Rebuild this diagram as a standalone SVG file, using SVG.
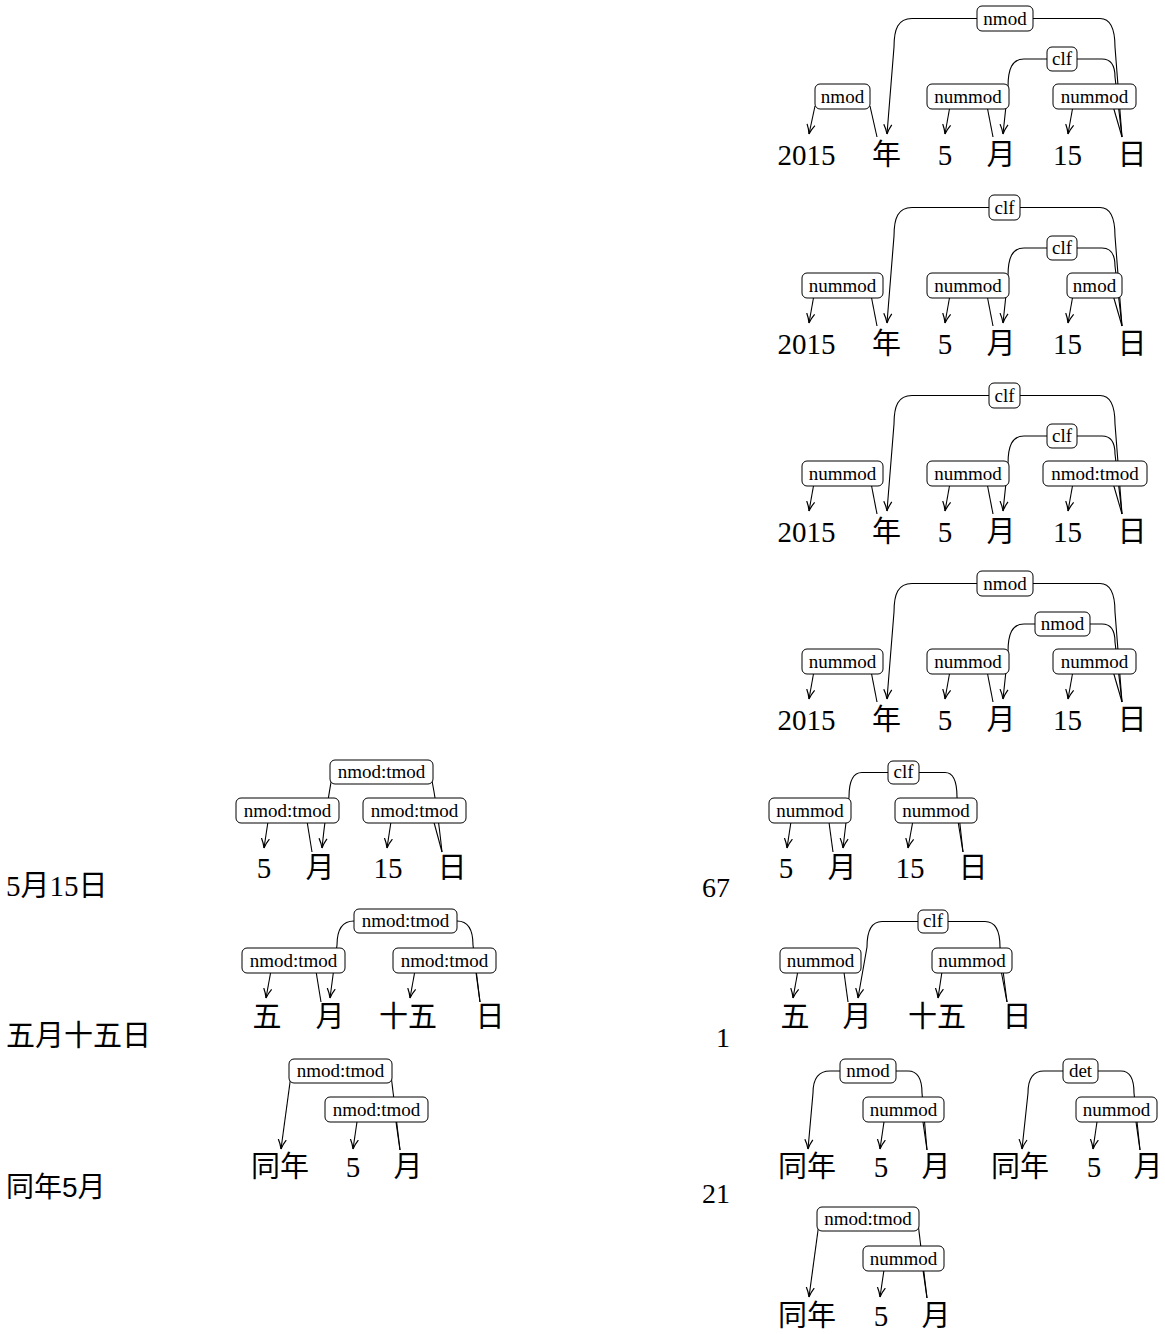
<svg xmlns="http://www.w3.org/2000/svg" width="1165" height="1334" viewBox="0 0 1165 1334">
<style>
.w{font-family:"Liberation Serif","Noto Sans CJK SC",serif;font-size:29px;text-anchor:middle;fill:#000}
.lt{font-family:"Liberation Serif","Noto Sans CJK SC",serif;font-size:29px;fill:#000}
.ls{font-family:"Liberation Sans","Noto Sans CJK SC",sans-serif;font-size:28px;fill:#000}
.num{font-family:"Liberation Serif",serif;font-size:28px;text-anchor:end;fill:#000}
.lb rect{fill:#fff;stroke:#000;stroke-width:1}
.lb text{font-family:"Liberation Serif",serif;font-size:19px;text-anchor:middle;fill:#000}
.e{fill:none;stroke:#000;stroke-width:1.1}
.a{marker-end:url(#arr)}
</style>
<defs>
<marker id="arr" markerUnits="userSpaceOnUse" markerWidth="11" markerHeight="11" viewBox="0 0 11 11" refX="10" refY="5.5" orient="auto">
<path d="M0.5,1.5 Q5.5,4.4 10,5.5 Q5.5,6.6 0.5,9.5" fill="none" stroke="#000" stroke-width="1.2"/>
</marker>
</defs>
<rect width="1165" height="1334" fill="#fff"/>

<!-- left column / counts -->
<g id="row-labels">
<text class="lt" x="6" y="896">5月15日</text>
<text class="lt" x="6" y="1046">五月十五日</text>
<text class="ls" x="6" y="1197">同年5月</text>
</g>
<g id="counts">
<text class="num" x="730" y="897">67</text>
<text class="num" x="730" y="1047">1</text>
<text class="num" x="730" y="1203">21</text>
</g>

<!-- Tree 1 -->
<g id="tree1">
<g id="t1-connectors">
<path class="e a" d="M977,18.5 L912,18.5 C898,18.5 894,29 894,47 L887,134"/>
<path class="e" d="M1033,18.5 L1100,18.5 C1111,18.5 1115,30 1115,47 L1122,137"/>
<path class="e a" d="M1047,59 L1024,59 C1012,59 1008,69 1008,87 L1003,134"/>
<path class="e" d="M1077,59 L1102,59 C1111,59 1115,66 1115,77 L1122,137"/>
<path class="e a" d="M815,106 L809,134"/><path class="e" d="M870,106 L877,137"/>
<path class="e a" d="M950,106 L945,134"/><path class="e" d="M987,106 L993,137"/>
<path class="e a" d="M1073,106 L1068,134"/><path class="e" d="M1113,106 L1122,137"/>
<g class="lb"><rect x="815" y="84" width="55" height="25" rx="5"/><text x="842.5" y="103">nmod</text></g>
<g class="lb"><rect x="927" y="84" width="82" height="25" rx="5"/><text x="968" y="103">nummod</text></g>
<g class="lb"><rect x="1053" y="84" width="83" height="25" rx="5"/><text x="1094.5" y="103">nummod</text></g>
<g class="lb"><rect x="1047" y="47" width="30" height="24" rx="5"/><text x="1062" y="65">clf</text></g>
<g class="lb"><rect x="977" y="6" width="56" height="25" rx="5"/><text x="1005" y="25">nmod</text></g>
</g>
<g id="t1-w1"><text class="w" x="806.5" y="165">2015</text></g>
<g id="t1-w2"><text class="w" x="886.5" y="165">年</text></g>
<g id="t1-w3"><text class="w" x="945" y="165">5</text></g>
<g id="t1-w4"><text class="w" x="1001" y="165">月</text></g>
<g id="t1-w5"><text class="w" x="1067.5" y="165">15</text></g>
<g id="t1-w6"><text class="w" x="1132" y="165">日</text></g>
</g>

<!-- Tree 2 -->
<g id="tree2" transform="translate(0,189)">
<g id="t2-connectors">
<path class="e a" d="M989,18.5 L912,18.5 C898,18.5 894,29 894,47 L887,134"/>
<path class="e" d="M1020,18.5 L1100,18.5 C1111,18.5 1115,30 1115,47 L1122,137"/>
<path class="e a" d="M1047,59 L1024,59 C1012,59 1008,69 1008,87 L1003,134"/>
<path class="e" d="M1077,59 L1102,59 C1111,59 1115,66 1115,77 L1122,137"/>
<path class="e a" d="M814,106 L809,134"/><path class="e" d="M871,106 L877,137"/>
<path class="e a" d="M950,106 L945,134"/><path class="e" d="M987,106 L993,137"/>
<path class="e a" d="M1073,106 L1068,134"/><path class="e" d="M1113,106 L1122,137"/>
<g class="lb"><rect x="802" y="84" width="81" height="25" rx="5"/><text x="842.5" y="103">nummod</text></g>
<g class="lb"><rect x="927" y="84" width="82" height="25" rx="5"/><text x="968" y="103">nummod</text></g>
<g class="lb"><rect x="1067" y="84" width="55" height="25" rx="5"/><text x="1094.5" y="103">nmod</text></g>
<g class="lb"><rect x="1047" y="47" width="30" height="24" rx="5"/><text x="1062" y="65">clf</text></g>
<g class="lb"><rect x="989" y="6" width="31" height="25" rx="5"/><text x="1004.5" y="25">clf</text></g>
</g>
<g id="t2-w1"><text class="w" x="806.5" y="165">2015</text></g>
<g id="t2-w2"><text class="w" x="886.5" y="165">年</text></g>
<g id="t2-w3"><text class="w" x="945" y="165">5</text></g>
<g id="t2-w4"><text class="w" x="1001" y="165">月</text></g>
<g id="t2-w5"><text class="w" x="1067.5" y="165">15</text></g>
<g id="t2-w6"><text class="w" x="1132" y="165">日</text></g>
</g>

<!-- Tree 3 -->
<g id="tree3" transform="translate(0,377)">
<g id="t3-connectors">
<path class="e a" d="M989,18.5 L912,18.5 C898,18.5 894,29 894,47 L887,134"/>
<path class="e" d="M1020,18.5 L1100,18.5 C1111,18.5 1115,30 1115,47 L1122,137"/>
<path class="e a" d="M1047,59 L1024,59 C1012,59 1008,69 1008,87 L1003,134"/>
<path class="e" d="M1077,59 L1102,59 C1111,59 1115,66 1115,77 L1122,137"/>
<path class="e a" d="M814,106 L809,134"/><path class="e" d="M871,106 L877,137"/>
<path class="e a" d="M950,106 L945,134"/><path class="e" d="M987,106 L993,137"/>
<path class="e a" d="M1073,106 L1068,134"/><path class="e" d="M1113,106 L1122,137"/>
<g class="lb"><rect x="802" y="84" width="81" height="25" rx="5"/><text x="842.5" y="103">nummod</text></g>
<g class="lb"><rect x="927" y="84" width="82" height="25" rx="5"/><text x="968" y="103">nummod</text></g>
<g class="lb"><rect x="1043" y="84" width="104" height="25" rx="5"/><text x="1095" y="103">nmod:tmod</text></g>
<g class="lb"><rect x="1047" y="47" width="30" height="24" rx="5"/><text x="1062" y="65">clf</text></g>
<g class="lb"><rect x="989" y="6" width="31" height="25" rx="5"/><text x="1004.5" y="25">clf</text></g>
</g>
<g id="t3-w1"><text class="w" x="806.5" y="165">2015</text></g>
<g id="t3-w2"><text class="w" x="886.5" y="165">年</text></g>
<g id="t3-w3"><text class="w" x="945" y="165">5</text></g>
<g id="t3-w4"><text class="w" x="1001" y="165">月</text></g>
<g id="t3-w5"><text class="w" x="1067.5" y="165">15</text></g>
<g id="t3-w6"><text class="w" x="1132" y="165">日</text></g>
</g>

<!-- Tree 4 -->
<g id="tree4" transform="translate(0,565)">
<g id="t4-connectors">
<path class="e a" d="M977,18.5 L912,18.5 C898,18.5 894,29 894,47 L887,134"/>
<path class="e" d="M1033,18.5 L1100,18.5 C1111,18.5 1115,30 1115,47 L1122,137"/>
<path class="e a" d="M1035,59 L1024,59 C1012,59 1008,69 1008,87 L1003,134"/>
<path class="e" d="M1090,59 L1102,59 C1111,59 1115,66 1115,77 L1122,137"/>
<path class="e a" d="M814,106 L809,134"/><path class="e" d="M871,106 L877,137"/>
<path class="e a" d="M950,106 L945,134"/><path class="e" d="M987,106 L993,137"/>
<path class="e a" d="M1073,106 L1068,134"/><path class="e" d="M1113,106 L1122,137"/>
<g class="lb"><rect x="802" y="84" width="81" height="25" rx="5"/><text x="842.5" y="103">nummod</text></g>
<g class="lb"><rect x="927" y="84" width="82" height="25" rx="5"/><text x="968" y="103">nummod</text></g>
<g class="lb"><rect x="1053" y="84" width="83" height="25" rx="5"/><text x="1094.5" y="103">nummod</text></g>
<g class="lb"><rect x="1035" y="47" width="55" height="24" rx="5"/><text x="1062.5" y="65">nmod</text></g>
<g class="lb"><rect x="977" y="6" width="56" height="25" rx="5"/><text x="1005" y="25">nmod</text></g>
</g>
<g id="t4-w1"><text class="w" x="806.5" y="165">2015</text></g>
<g id="t4-w2"><text class="w" x="886.5" y="165">年</text></g>
<g id="t4-w3"><text class="w" x="945" y="165">5</text></g>
<g id="t4-w4"><text class="w" x="1001" y="165">月</text></g>
<g id="t4-w5"><text class="w" x="1067.5" y="165">15</text></g>
<g id="t4-w6"><text class="w" x="1132" y="165">日</text></g>
</g>

<!-- Tree A -->
<g id="treeA">
<g id="tA-connectors">
<path class="e a" d="M332,776 C330,790 327,800 322,848"/>
<path class="e" d="M431,776 C434,790 437,805 442,852"/>
<path class="e a" d="M269,815 L264,848"/><path class="e" d="M306,815 L312,852"/>
<path class="e a" d="M392,815 L387,848"/><path class="e" d="M432,815 L442,852"/>
<g class="lb"><rect x="330" y="760" width="103" height="24" rx="5"/><text x="381.5" y="778">nmod:tmod</text></g>
<g class="lb"><rect x="236" y="798" width="103" height="25" rx="5"/><text x="287.5" y="817">nmod:tmod</text></g>
<g class="lb"><rect x="363" y="798" width="103" height="25" rx="5"/><text x="414.5" y="817">nmod:tmod</text></g>
</g>
<g id="tA-w1"><text class="w" x="264" y="878">5</text></g>
<g id="tA-w2"><text class="w" x="320" y="878">月</text></g>
<g id="tA-w3"><text class="w" x="388" y="878">15</text></g>
<g id="tA-w4"><text class="w" x="452" y="878">日</text></g>
</g>

<!-- Tree B -->
<g id="treeB">
<g id="tB-connectors">
<path class="e a" d="M354,921 C342,921 337,930 337,945 L330,998"/>
<path class="e" d="M457,921 C468,921 473,930 473,945 L480,1002"/>
<path class="e a" d="M272,965 L266,998"/><path class="e" d="M315,965 L321,1002"/>
<path class="e a" d="M416,965 L410,998"/><path class="e" d="M475,965 L480,1002"/>
<g class="lb"><rect x="354" y="909" width="103" height="24" rx="5"/><text x="405.5" y="927">nmod:tmod</text></g>
<g class="lb"><rect x="242" y="948" width="103" height="25" rx="5"/><text x="293.5" y="967">nmod:tmod</text></g>
<g class="lb"><rect x="393" y="948" width="103" height="25" rx="5"/><text x="444.5" y="967">nmod:tmod</text></g>
</g>
<g id="tB-w1"><text class="w" x="267" y="1027">五</text></g>
<g id="tB-w2"><text class="w" x="330" y="1027">月</text></g>
<g id="tB-w3"><text class="w" x="408" y="1027">十五</text></g>
<g id="tB-w4"><text class="w" x="490" y="1027">日</text></g>
</g>

<!-- Tree C -->
<g id="treeC">
<g id="tC-connectors">
<path class="e a" d="M291,1075 L281,1149"/>
<path class="e" d="M391,1075 L400,1150"/>
<path class="e a" d="M358,1115 L353,1149"/><path class="e" d="M395,1115 L400,1150"/>
<g class="lb"><rect x="289" y="1059" width="103" height="24" rx="5"/><text x="340.5" y="1077">nmod:tmod</text></g>
<g class="lb"><rect x="325" y="1097" width="103" height="25" rx="5"/><text x="376.5" y="1116">nmod:tmod</text></g>
</g>
<g id="tC-w1"><text class="w" x="280" y="1177">同年</text></g>
<g id="tC-w2"><text class="w" x="353" y="1177">5</text></g>
<g id="tC-w3"><text class="w" x="408" y="1177">月</text></g>
</g>

<!-- Tree D -->
<g id="treeD">
<g id="tD-connectors">
<path class="e a" d="M888,772.5 L862,772.5 C852,772.5 849,782 849,797 L843,848"/>
<path class="e" d="M919,772.5 L945,772.5 C953,772.5 957,782 957,797 L963,852"/>
<path class="e a" d="M792,815 L787,848"/><path class="e" d="M828,815 L833,852"/>
<path class="e a" d="M914,815 L908,848"/><path class="e" d="M957,815 L963,852"/>
<g class="lb"><rect x="888" y="761" width="31" height="23" rx="5"/><text x="903.5" y="778">clf</text></g>
<g class="lb"><rect x="769" y="798" width="82" height="25" rx="5"/><text x="810" y="817">nummod</text></g>
<g class="lb"><rect x="895" y="798" width="82" height="25" rx="5"/><text x="936" y="817">nummod</text></g>
</g>
<g id="tD-w1"><text class="w" x="786" y="878">5</text></g>
<g id="tD-w2"><text class="w" x="842" y="878">月</text></g>
<g id="tD-w3"><text class="w" x="910" y="878">15</text></g>
<g id="tD-w4"><text class="w" x="973" y="878">日</text></g>
</g>

<!-- Tree E -->
<g id="treeE">
<g id="tE-connectors">
<path class="e a" d="M918,921.5 L882,921.5 C871,921.5 867,932 867,947 L858,998"/>
<path class="e" d="M948,921.5 L985,921.5 C996,921.5 1000,932 1000,947 L1007,1002"/>
<path class="e a" d="M799,965 L793,998"/><path class="e" d="M843,965 L848,1002"/>
<path class="e a" d="M943,965 L938,998"/><path class="e" d="M1000,965 L1007,1002"/>
<g class="lb"><rect x="918" y="910" width="30" height="23" rx="5"/><text x="933" y="927">clf</text></g>
<g class="lb"><rect x="780" y="948" width="81" height="25" rx="5"/><text x="820.5" y="967">nummod</text></g>
<g class="lb"><rect x="932" y="948" width="80" height="25" rx="5"/><text x="972" y="967">nummod</text></g>
</g>
<g id="tE-w1"><text class="w" x="795" y="1027">五</text></g>
<g id="tE-w2"><text class="w" x="857" y="1027">月</text></g>
<g id="tE-w3"><text class="w" x="937" y="1027">十五</text></g>
<g id="tE-w4"><text class="w" x="1017" y="1027">日</text></g>
</g>

<!-- Tree F -->
<g id="treeF">
<g id="tF-connectors">
<path class="e a" d="M840,1071 L830,1071 C818,1071 813,1080 813,1093 L808,1149"/>
<path class="e" d="M896,1071 L908,1071 C918,1071 922,1080 922,1093 L927,1150"/>
<path class="e a" d="M885,1115 L880,1149"/><path class="e" d="M922,1115 L927,1150"/>
<g class="lb"><rect x="840" y="1059" width="56" height="24" rx="5"/><text x="868" y="1077">nmod</text></g>
<g class="lb"><rect x="863" y="1097" width="81" height="25" rx="5"/><text x="903.5" y="1116">nummod</text></g>
</g>
<g id="tF-w1"><text class="w" x="807" y="1177">同年</text></g>
<g id="tF-w2"><text class="w" x="881" y="1177">5</text></g>
<g id="tF-w3"><text class="w" x="936" y="1177">月</text></g>
</g>

<!-- Tree G -->
<g id="treeG">
<g id="tG-connectors">
<path class="e a" d="M1063,1071 L1044,1071 C1032,1071 1028,1080 1028,1093 L1022,1149"/>
<path class="e" d="M1098,1071 L1121,1071 C1131,1071 1134,1080 1134,1093 L1140,1150"/>
<path class="e a" d="M1098,1115 L1093,1149"/><path class="e" d="M1135,1115 L1140,1150"/>
<g class="lb"><rect x="1063" y="1059" width="35" height="24" rx="5"/><text x="1080.5" y="1077">det</text></g>
<g class="lb"><rect x="1076" y="1097" width="81" height="25" rx="5"/><text x="1116.5" y="1116">nummod</text></g>
</g>
<g id="tG-w1"><text class="w" x="1020" y="1177">同年</text></g>
<g id="tG-w2"><text class="w" x="1094" y="1177">5</text></g>
<g id="tG-w3"><text class="w" x="1148" y="1177">月</text></g>
</g>

<!-- Tree H -->
<g id="treeH">
<g id="tH-connectors">
<path class="e a" d="M819,1223 L809,1297"/>
<path class="e" d="M918,1223 L927,1298"/>
<path class="e a" d="M885,1263 L880,1297"/><path class="e" d="M922,1263 L927,1298"/>
<g class="lb"><rect x="817" y="1207" width="102" height="24" rx="5"/><text x="868" y="1225">nmod:tmod</text></g>
<g class="lb"><rect x="863" y="1246" width="81" height="25" rx="5"/><text x="903.5" y="1265">nummod</text></g>
</g>
<g id="tH-w1"><text class="w" x="807" y="1326">同年</text></g>
<g id="tH-w2"><text class="w" x="881" y="1326">5</text></g>
<g id="tH-w3"><text class="w" x="936" y="1326">月</text></g>
</g>
</svg>
